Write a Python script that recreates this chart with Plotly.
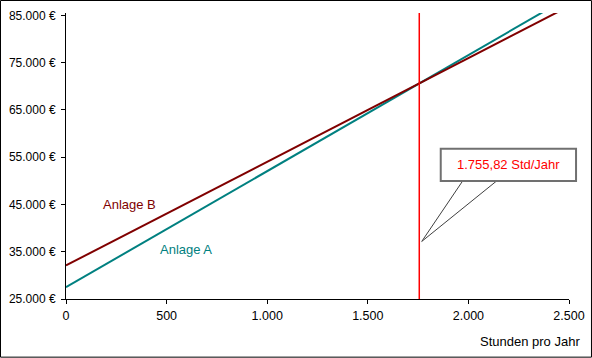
import plotly.graph_objects as go

# Data
hours = [0, 2500]
anlage_a = [27500, 88875]
anlage_b = [32100, 86925]
break_even = 1755.82
y_tickvals = [25000, 35000, 45000, 55000, 65000, 75000, 85000]
y_ticktext = ["25.000 €", "35.000 €", "45.000 €", "55.000 €", "65.000 €", "75.000 €", "85.000 €"]
x_tickvals = [0, 500, 1000, 1500, 2000, 2500]
x_ticktext = ["0", "500", "1.000", "1.500", "2.000", "2.500"]

FONT = "Liberation Sans, Arial, sans-serif"
FS = 13
TEAL = "#008080"
DRED = "#800000"

fig = go.Figure()
fig.add_trace(go.Scatter(x=hours, y=anlage_a, mode="lines", name="Anlage A",
                         line=dict(color=TEAL, width=2), showlegend=False))
fig.add_trace(go.Scatter(x=hours, y=anlage_b, mode="lines", name="Anlage B",
                         line=dict(color=DRED, width=2), showlegend=False))

# vertical break-even line
fig.add_shape(type="line", xref="x", yref="paper", x0=break_even, x1=break_even,
              y0=0, y1=1, line=dict(color="#FF0000", width=1.5), layer="above")

# callout wedge + box
fig.add_shape(type="path", xref="paper", yref="paper",
              path="M 0.7887 0.413 L 0.7072 0.2012 L 0.8563 0.413",
              line=dict(color="#404040", width=1))
fig.add_shape(type="rect", xref="paper", yref="paper",
              x0=0.745, x1=1.014, y0=0.413, y1=0.525,
              line=dict(color="#707070", width=2), fillcolor="white")
fig.add_annotation(xref="paper", yref="paper", x=0.8797, y=0.469,
                   text="1.755,82 Std/Jahr", showarrow=False,
                   font=dict(color="#FF0000", size=FS, family=FONT),
                   xanchor="center", yanchor="middle")

# series labels
fig.add_annotation(x=318, y=44900, text="Anlage B", showarrow=False,
                   font=dict(color=DRED, size=FS, family=FONT))
fig.add_annotation(x=598, y=35400, text="Anlage A", showarrow=False,
                   font=dict(color=TEAL, size=FS, family=FONT))

# x axis title
fig.add_annotation(xref="paper", yref="paper", x=1.025, y=-0.148,
                   text="Stunden pro Jahr", showarrow=False,
                   xanchor="right", yanchor="middle",
                   font=dict(color="black", size=FS, family=FONT))

# outer border
fig.add_shape(type="rect", xref="paper", yref="paper",
              x0=-0.1302, x1=1.0447, y0=-0.2033, y1=1.0437,
              line=dict(color="black", width=1))

fig.update_layout(
    width=592, height=358,
    margin=dict(l=66, r=23, t=13, b=59, autoexpand=False),
    paper_bgcolor="white", plot_bgcolor="white",
    font=dict(family=FONT, size=FS, color="black"),
    xaxis=dict(range=[0, 2500], tickvals=x_tickvals, ticktext=x_ticktext,
               showline=True, linecolor="black", linewidth=1,
               ticks="outside", ticklen=4, tickcolor="black",
               showgrid=False, zeroline=False, automargin=False,
               ticklabelstandoff=1, tickfont=dict(size=12.5)),
    yaxis=dict(range=[25000, 85490], tickvals=y_tickvals, ticktext=y_ticktext,
               showline=True, linecolor="black", linewidth=1,
               ticks="outside", ticklen=4, tickcolor="black",
               showgrid=False, zeroline=False, automargin=False,
               ticklabelstandoff=3, tickfont=dict(size=12)),
)

fig.write_html("out.html", config={"displayModeBar": False},
               post_script="document.body.style.margin='0';")
